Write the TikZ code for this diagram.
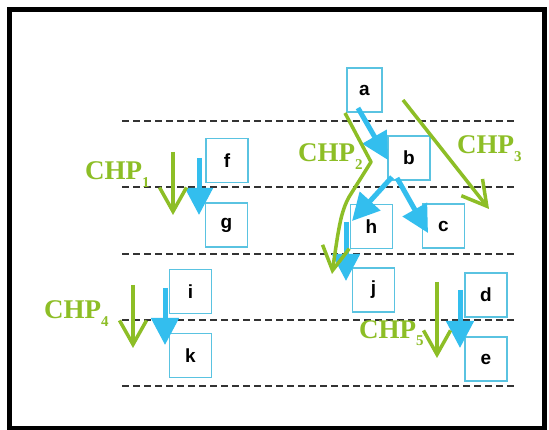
\documentclass[tikz,border=0pt]{standalone}
\usepackage{fontspec}
\setmainfont{Liberation Serif}
\newfontfamily\boxfont{Liberation Sans}
\usetikzlibrary{arrows.meta,calc}
\definecolor{chpgreen}{RGB}{141,190,38}
\definecolor{arrowblue}{RGB}{51,190,238}
\definecolor{boxblue}{RGB}{90,195,225}
\newcommand\chpsub[1]{\raisebox{-8pt}{\fontsize{15}{15}\selectfont #1}}
\begin{document}
\begin{tikzpicture}[x=1pt,y=-1pt,
  box/.style={draw=boxblue, line width=1.2pt, minimum width=42pt, minimum height=44pt,
    inner sep=0pt, font=\boxfont\bfseries\fontsize{19}{19}\selectfont},
  bluearrow/.style={draw=arrowblue, line width=5pt, -{Triangle[length=27pt,width=27pt]}},
  greenarrow/.style={draw=chpgreen, line width=3.5pt, -{Straight Barb[length=24pt,width=27pt]}},
  chp/.style={text=chpgreen, font=\fontsize{27}{27}\selectfont\bfseries, inner sep=0pt, anchor=base west},
  level/.style={dash pattern=on 7pt off 4pt, line width=1.2pt, draw=black!80}]
\useasboundingbox (0,0) rectangle (549,430);
\fill[white] (0,0) rectangle (549,430);
\draw[line width=5pt] (9.5,9.5) rectangle (544.5,428.5);

% level lines
\foreach \yy/\nm in {121/l1,187/l2,254/l3,320/l4,386/l5}{
  \coordinate (\nm a) at (122,\yy);
  \coordinate (\nm b) at (516,\yy);
  \draw[level] (\nm a) -- (\nm b);
}

% boxes
\node[box, minimum width=35pt] (a) at (364.5,90) {a};
\node[box] (b) at (409,158) {b};
\node[box] (f) at (227,160.5) {f};
\node[box] (g) at (226.5,225) {g};
\node[box] (h) at (371.5,226.5) {h};
\node[box] (c) at (443.5,226) {c};
\node[box] (j) at (373.5,290) {j};
\node[box] (i) at (190.5,291.5) {i};
\node[box] (k) at (190.5,355.5) {k};
\node[box] (d) at (486,295) {d};
\node[box] (e) at (486,359) {e};

% blue arrow end points
\coordinate (ab1) at (358,108); \coordinate (ab2) at (388,160);
\coordinate (bh1) at (392,177); \coordinate (bh2) at (352,221);
\coordinate (bc1) at (397,178); \coordinate (bc2) at (428,233);
\coordinate (hj1) at (346,222); \coordinate (hj2) at (346,281);
\coordinate (fg1) at (199,158); \coordinate (fg2) at (199,215);
\coordinate (ik1) at (165,288); \coordinate (ik2) at (165,345);
\coordinate (de1) at (460,290); \coordinate (de2) at (460,348);

\draw[bluearrow] (ab1) -- (ab2);
\draw[bluearrow] (bh1) -- (bh2);
\draw[bluearrow] (bc1) -- (bc2);
\draw[bluearrow] (hj1) -- (hj2);
\draw[bluearrow] (fg1) -- (fg2);
\draw[bluearrow] (ik1) -- (ik2);
\draw[bluearrow] (de1) -- (de2);

% green arrows
\coordinate (p1s) at (173,152); \coordinate (p1e) at (173,215);
\coordinate (p4s) at (133,285); \coordinate (p4e) at (133,348);
\coordinate (p5s) at (437,282); \coordinate (p5e) at (437,358);
\coordinate (p3s) at (403,100); \coordinate (p3e) at (489,209);
\coordinate (p2s) at (345,113); \coordinate (p2v) at (371,162);
\coordinate (p2w) at (349,197); \coordinate (p2e) at (332,274);

\draw[greenarrow] (p1s) -- (p1e);
\draw[greenarrow] (p4s) -- (p4e);
\draw[greenarrow] (p5s) -- (p5e);
\draw[greenarrow] (p3s) -- (p3e);
\draw[greenarrow, line join=round] (p2s) -- (p2v) -- (p2w) .. controls (341,212) and (339,225) .. (p2e);

% labels
\node[chp] (c1) at (85,180) {CHP\chpsub{1}};
\node[chp] (c2) at (298,162) {CHP\chpsub{2}};
\node[chp] (c3) at (457,154) {CHP\chpsub{3}};
\node[chp] (c4) at (44,319) {CHP\chpsub{4}};
\node[chp] (c5) at (359,338) {CHP\chpsub{5}};
\end{tikzpicture}
\end{document}
